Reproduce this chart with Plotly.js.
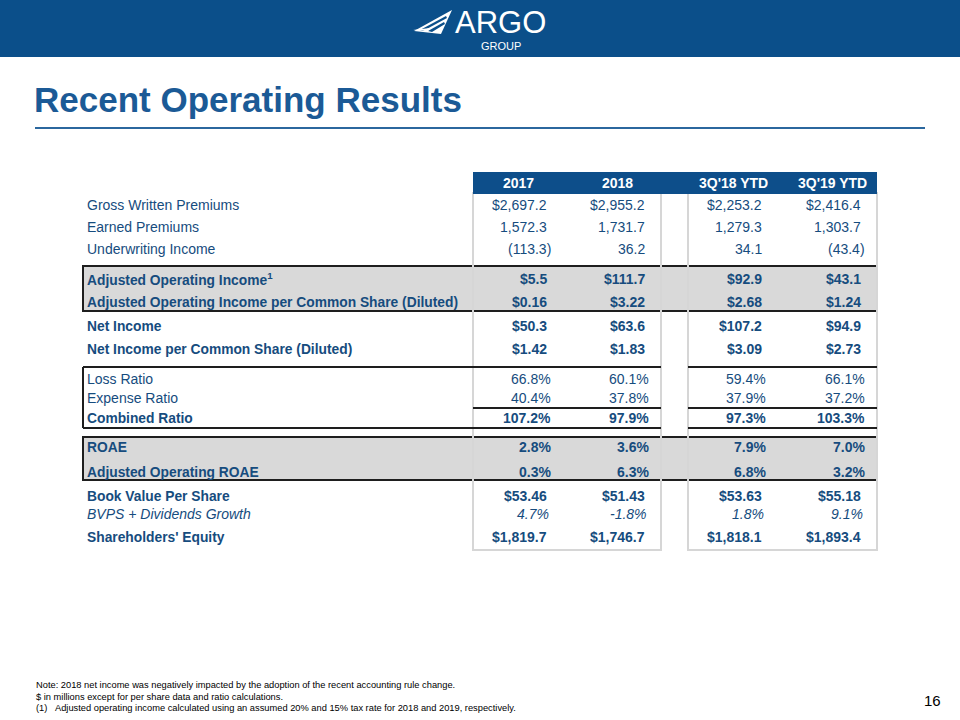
<!DOCTYPE html>
<html>
<head>
<meta charset="utf-8">
<script src="https://cdn.plot.ly/plotly-3.0.1.min.js"></script>
<style>html,body{margin:0;padding:0;background:#fff;}#chart{width:960px;height:720px;}</style>
</head>
<body>
<div id="chart"></div>
<script>
// ---------- DATA ----------
const columns = ["2017", "2018", "3Q'18 YTD", "3Q'19 YTD"];
const rowLabels = [
  "Gross Written Premiums",
  "Earned Premiums",
  "Underwriting Income",
  "Adjusted Operating Income<sup>1</sup>",
  "Adjusted Operating Income per Common Share (Diluted)",
  "Net Income",
  "Net Income per Common Share (Diluted)",
  "Loss Ratio",
  "Expense Ratio",
  "Combined Ratio",
  "ROAE",
  "Adjusted Operating ROAE",
  "Book Value Per Share",
  "BVPS + Dividends Growth",
  "Shareholders' Equity"
];
const v2017  = [2697.2, 1572.3, -113.3, 5.5,   0.16, 50.3,  1.42, 66.8, 40.4, 107.2, 2.8, 0.3, 53.46, 4.7,  1819.7];
const v2018  = [2955.2, 1731.7, 36.2,   111.7, 3.22, 63.6,  1.83, 60.1, 37.8, 97.9,  3.6, 6.3, 51.43, -1.8, 1746.7];
const v3Q18  = [2253.2, 1279.3, 34.1,   92.9,  2.68, 107.2, 3.09, 59.4, 37.9, 97.3,  7.9, 6.8, 53.63, 1.8,  1818.1];
const v3Q19  = [2416.4, 1303.7, -43.4,  43.1,  1.24, 94.9,  2.73, 66.1, 37.2, 103.3, 7.0, 3.2, 55.18, 9.1,  1893.4];
const rowFormat = ["usd1","num1","acct1","usd1","usd2","usd1","usd2","pct1","pct1","pct1","pct1","pct1","usd2","pct1","usd1"];
const footnotes = [
  "Note: 2018 net income was negatively impacted by the adoption of the recent accounting rule change.",
  "$ in millions except for per share data and ratio calculations."
];
const footnote1Mark = "(1)";
const footnote1Text = "Adjusted operating income calculated using an assumed 20% and 15% tax rate for 2018 and 2019, respectively.";
const titleText = "Recent Operating Results";
const pageNumber = "16";

// ---------- LAYOUT / STYLE ----------
const rowY = [205, 227, 249, 279, 302, 326, 349, 379, 398, 418, 447, 472, 496, 514, 537];
const rowStyle = ["n","n","n","b","b","b","b","n","n","b","b","b","b","i","b"];
const colRight = [548, 646, 763, 862];
const colCenter = [518, 617, 733, 832];
const headerY = 183;
const labelX = 86;
const BLUE = "#0d4e8a";
const TXT = "#164c7e";
const FONT = "Liberation Sans, Arial, sans-serif";

function fmtNum(v, d) {
  return Math.abs(v).toLocaleString("en-US", {minimumFractionDigits: d, maximumFractionDigits: d});
}
function fmt(v, f) {
  if (f === "usd1") return (v < 0 ? "-" : "") + "$" + fmtNum(v, 1);
  if (f === "usd2") return (v < 0 ? "-" : "") + "$" + fmtNum(v, 2);
  if (f === "num1") return (v < 0 ? "-" : "") + fmtNum(v, 1);
  if (f === "acct1") return v < 0 ? "(" + fmtNum(v, 1) + ")" : fmtNum(v, 1);
  if (f === "pct1") return (v < 0 ? "-" : "") + fmtNum(v, 1) + "%";
  return String(v);
}
function wrap(s, st) {
  if (st === "b") return "<b>" + s + "</b>";
  if (st === "i") return "<i>" + s + "</i>";
  return s;
}

const annotations = [];
const shapes = [];

// top banner
shapes.push({type: "rect", xref: "x", yref: "y", x0: 0, x1: 960, y0: 0, y1: 57, fillcolor: "#0b4f8a", line: {width: 0}, layer: "below"});
// logo wing
shapes.push({type: "path", xref: "x", yref: "y", path: "M 414 31 L 452 10 L 441 34 Z", fillcolor: "#ffffff", line: {width: 0}});
shapes.push({type: "path", xref: "x", yref: "y", path: "M 420 30 L 446 16 L 447 18 L 423 31 Z", fillcolor: "#0b4f8a", line: {width: 0}});
shapes.push({type: "path", xref: "x", yref: "y", path: "M 428 31 L 444 22 L 445 24 L 432 32 Z", fillcolor: "#0b4f8a", line: {width: 0}});
shapes.push({type: "path", xref: "x", yref: "y", path: "M 413 30 L 430 28 L 428 31 Z", fillcolor: "#ffffff", line: {width: 0}});
annotations.push({xref: "x", yref: "y", x: 500, y: 22, text: "ARGO", showarrow: false, xanchor: "center", yanchor: "middle", font: {family: FONT, size: 31, color: "#ffffff"}, borderpad: 0});
annotations.push({xref: "x", yref: "y", x: 501, y: 46, text: "GROUP", showarrow: false, xanchor: "center", yanchor: "middle", font: {family: FONT, size: 11, color: "#ffffff"}, borderpad: 0});

// title & rule
annotations.push({xref: "x", yref: "y", x: 33, y: 99, text: "<b>" + titleText + "</b>", showarrow: false, xanchor: "left", yanchor: "middle", font: {family: FONT, size: 35, color: "#1b5a96"}, borderpad: 0});
shapes.push({type: "line", xref: "x", yref: "y", x0: 35, x1: 925, y0: 128, y1: 128, line: {color: "#2b679e", width: 2}});

// gray boxes (filled)
const DARK = "#1e1e1e";
shapes.push({type: "rect", xref: "x", yref: "y", x0: 83, x1: 877, y0: 266, y1: 311, fillcolor: "#d9d9d9", line: {color: DARK, width: 2}, layer: "below"});
shapes.push({type: "rect", xref: "x", yref: "y", x0: 83, x1: 877, y0: 437, y1: 480, fillcolor: "#d9d9d9", line: {color: DARK, width: 2}, layer: "below"});

// column boxes
const LG = "#d6d6d6";
shapes.push({type: "rect", xref: "x", yref: "y", x0: 473, x1: 661, y0: 193, y1: 550, fillcolor: "rgba(0,0,0,0)", line: {color: LG, width: 2}, layer: "below"});
shapes.push({type: "rect", xref: "x", yref: "y", x0: 688, x1: 877, y0: 193, y1: 550, fillcolor: "rgba(0,0,0,0)", line: {color: LG, width: 2}, layer: "below"});
// header band
shapes.push({type: "rect", xref: "x", yref: "y", x0: 473, x1: 877, y0: 172, y1: 194, fillcolor: BLUE, line: {width: 0}});

// ratio section lines
function hseg(x0, x1, y) {
  shapes.push({type: "line", xref: "x", yref: "y", x0: x0, x1: x1, y0: y, y1: y, line: {color: DARK, width: 2}});
}
hseg(83, 661, 367); hseg(688, 877, 367);
hseg(473, 661, 408); hseg(688, 877, 408);
hseg(83, 661, 428); hseg(688, 877, 428);
shapes.push({type: "line", xref: "x", yref: "y", x0: 83, x1: 83, y0: 367, y1: 428, line: {color: DARK, width: 2}});

// header labels
columns.forEach((c, j) => {
  annotations.push({xref: "x", yref: "y", x: colCenter[j], y: headerY, text: "<b>" + c + "</b>", showarrow: false, xanchor: "center", yanchor: "middle", font: {family: FONT, size: 14, color: "#ffffff"}, borderpad: 0});
});

// row labels and values
const series = [v2017, v2018, v3Q18, v3Q19];
rowLabels.forEach((lab, i) => {
  const labSize = rowStyle[i] === "b" ? 13.8 : 14;
  annotations.push({xref: "x", yref: "y", x: labelX, y: rowY[i], text: wrap(lab, rowStyle[i]), showarrow: false, xanchor: "left", yanchor: "middle", font: {family: FONT, size: labSize, color: TXT}, borderpad: 0});
  series.forEach((arr, j) => {
    const s = fmt(arr[i], rowFormat[i]);
    let dx = 0;
    if (s.endsWith("%") || s.endsWith(")")) dx = rowStyle[i] === "i" ? 2 : 4;
    annotations.push({xref: "x", yref: "y", x: colRight[j] + dx, y: rowY[i], text: wrap(s, rowStyle[i]), showarrow: false, xanchor: "right", yanchor: "middle", font: {family: FONT, size: 14, color: TXT}, borderpad: 0});
  });
});

// footnotes
const fnY = [685, 697];
footnotes.forEach((t, k) => {
  annotations.push({xref: "x", yref: "y", x: 35, y: fnY[k], text: t.replace("$", "&#36;"), showarrow: false, xanchor: "left", yanchor: "middle", font: {family: FONT, size: 9.3, color: "#000000"}, borderpad: 0});
});
annotations.push({xref: "x", yref: "y", x: 35, y: 708, text: footnote1Mark, showarrow: false, xanchor: "left", yanchor: "middle", font: {family: FONT, size: 9.3, color: "#000000"}, borderpad: 0});
annotations.push({xref: "x", yref: "y", x: 54, y: 708, text: footnote1Text, showarrow: false, xanchor: "left", yanchor: "middle", font: {family: FONT, size: 9.3, color: "#000000"}, borderpad: 0});
annotations.push({xref: "x", yref: "y", x: 942, y: 700, text: pageNumber, showarrow: false, xanchor: "right", yanchor: "middle", font: {family: FONT, size: 15, color: "#000000"}, borderpad: 0});

const layout = {
  width: 960, height: 720,
  margin: {l: 0, r: 0, t: 0, b: 0, pad: 0},
  paper_bgcolor: "#ffffff", plot_bgcolor: "#ffffff",
  showlegend: false,
  xaxis: {range: [0, 960], visible: false, fixedrange: true},
  yaxis: {range: [720, 0], visible: false, fixedrange: true},
  shapes: shapes,
  annotations: annotations
};
Plotly.newPlot("chart", [{x: [], y: [], type: "scatter", mode: "markers", hoverinfo: "skip"}], layout, {staticPlot: true, displayModeBar: false});
</script>
</body>
</html>
